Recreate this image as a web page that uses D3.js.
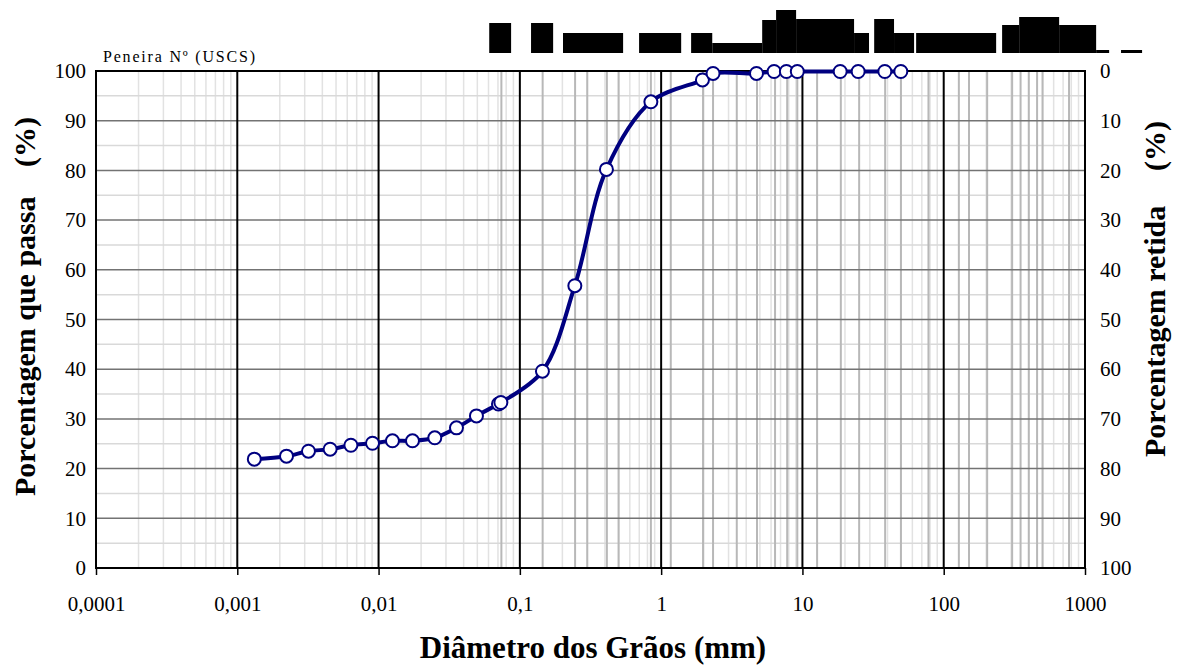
<!DOCTYPE html>
<html><head><meta charset="utf-8">
<script src="https://cdn.jsdelivr.net/npm/d3@7"></script>
<style>
html,body{margin:0;padding:0;background:#fff;}
svg{display:block;}
text{font-family:"Liberation Serif","Times New Roman",serif;fill:#000;}
</style></head>
<body>
<svg id="chart" width="1181" height="666"></svg>
<script>
// ---- data ----
const diameters = [0.00132,0.00223,0.00319,0.00454,0.00637,0.00906,0.01254,0.01738,0.0250,0.0356,0.0493,0.0706,0.0734,0.1445,0.245,0.410,0.846,1.96,2.33,4.73,6.3,7.7,9.2,18.5,24.8,38.3,49.7];
const passing   = [21.9,22.5,23.5,23.9,24.7,25.1,25.6,25.6,26.2,28.2,30.6,33.0,33.3,39.6,56.8,80.2,93.8,98.2,99.5,99.5,99.9,99.9,99.9,99.9,99.9,99.9,99.9];
const sieveLines = [0.074,0.145,0.246,0.3,0.413,0.5,0.846,1.17,1.98,2.33,3.43,4.77,6.4,7.8,9.2,12.7,18.7,25.2,38.5,49.8,78,128,151,203,305,350,400,458,501,771];
const xTickValues = [0.0001,0.001,0.01,0.1,1,10,100,1000];
const xTickLabels = ["0,0001","0,001","0,01","0,1","1","10","100","1000"];
const yTickValues = [0,10,20,30,40,50,60,70,80,90,100];
// header label blocks (sieve number labels rendered as solid blocks): start/end diameter, height
const headerStart  = [0.0607,0.120,0.202,0.698,1.63,2.30,5.19,6.51,9.02,23.2,32.2,44.5,63.8,259,342,656,1199,1799];
const headerEnd    = [0.0867,0.172,0.538,1.386,2.30,5.19,6.51,9.02,23.2,29.6,44.5,61.7,235,342,656,1199,1482,2535];
const headerHeight = [30,30,20,20,20,10,33,43,34,20,34,20,20,28,36,28,3,3];

// ---- layout ----
const L = 96, R = 1085, T = 71, B = 568;
const svg = d3.select("#chart");
const x = d3.scaleLog().domain([1e-4,1e3]).range([L,R]);
const y = d3.scaleLinear().domain([0,100]).range([B,T]);
const yR = d3.scaleLinear().domain([100,0]).range([B,T]);

const g = svg.append("g");

// minor vertical grid
const minors = [];
for (let e=-4;e<3;e++) for (let k=2;k<=9;k++) minors.push(k*Math.pow(10,e));
g.selectAll(".vminor").data(minors).enter().append("line")
  .attr("x1",d=>x(d)).attr("x2",d=>x(d)).attr("y1",T).attr("y2",B)
  .attr("stroke","#e2e2e2").attr("stroke-width",1.5);
// minor horizontal grid
const hmin = d3.range(5,100,10);
g.selectAll(".hminor").data(hmin).enter().append("line")
  .attr("x1",L).attr("x2",R).attr("y1",d=>y(d)).attr("y2",d=>y(d))
  .attr("stroke","#d9d9d9").attr("stroke-width",1.5);
// sieve lines
g.selectAll(".sieve").data(sieveLines).enter().append("line")
  .attr("x1",d=>x(d)).attr("x2",d=>x(d)).attr("y1",T).attr("y2",B)
  .attr("stroke","#b8b8b8").attr("stroke-width",2);
// major horizontal
g.selectAll(".hmaj").data(yTickValues.slice(1,-1)).enter().append("line")
  .attr("x1",L).attr("x2",R).attr("y1",d=>y(d)).attr("y2",d=>y(d))
  .attr("stroke","#737373").attr("stroke-width",1.5);
// decade lines
g.selectAll(".dec").data(xTickValues.slice(1,-1)).enter().append("line")
  .attr("x1",d=>x(d)).attr("x2",d=>x(d)).attr("y1",T).attr("y2",B)
  .attr("stroke","#000").attr("stroke-width",2);
// border
g.append("rect").attr("x",L).attr("y",T).attr("width",R-L).attr("height",B-T)
  .attr("fill","none").attr("stroke","#000").attr("stroke-width",2);

// x axis
const xAxis = d3.axisBottom(x).tickValues(xTickValues)
  .tickFormat((d,i)=>xTickLabels[i]).tickSize(7).tickPadding(21);
const xa = svg.append("g").attr("transform",`translate(0,${B})`).call(xAxis);
xa.select(".domain").remove();
xa.selectAll(".tick line").attr("stroke","#000").attr("stroke-width",1.5);
xa.selectAll(".tick text").attr("font-size",21).attr("font-family","Liberation Serif");

// left axis
const yAxis = d3.axisLeft(y).tickValues(yTickValues).tickSize(0).tickPadding(10);
const ya = svg.append("g").attr("transform",`translate(${L},0)`).call(yAxis);
ya.select(".domain").remove();
ya.selectAll(".tick text").attr("font-size",21).attr("font-family","Liberation Serif");
// right axis
const yAxisR = d3.axisRight(yR).tickValues(yTickValues).tickSize(0).tickPadding(15);
const yra = svg.append("g").attr("transform",`translate(${R},0)`).call(yAxisR);
yra.select(".domain").remove();
yra.selectAll(".tick text").attr("font-size",21).attr("font-family","Liberation Serif");

// header blocks
const hb = d3.range(headerStart.length);
svg.selectAll(".hb").data(hb).enter().append("rect")
  .attr("x",i=>x(headerStart[i])).attr("width",i=>x(headerEnd[i])-x(headerStart[i]))
  .attr("y",i=>53-headerHeight[i]).attr("height",i=>headerHeight[i])
  .attr("fill","#000");

// curve
const pts = diameters.map((d,i)=>[x(d),y(passing[i])]);
svg.append("path").attr("d",d3.line().curve(d3.curveCatmullRom.alpha(0.5))(pts))
  .attr("fill","none").attr("stroke","#000080").attr("stroke-width",4);
svg.selectAll(".pt").data(pts).enter().append("circle")
  .attr("cx",d=>d[0]).attr("cy",d=>d[1]).attr("r",6.5)
  .attr("fill","#fff").attr("stroke","#000080").attr("stroke-width",2);

// labels
svg.append("text").attr("x",103).attr("y",62).attr("font-size",16).attr("letter-spacing",1.8)
  .text("Peneira Nº (USCS)");
svg.append("text").attr("x",593).attr("y",658).attr("text-anchor","middle")
  .attr("font-size",31).attr("font-weight","bold").text("Diâmetro dos Grãos (mm)");
svg.append("text").attr("transform","translate(35,496) rotate(-90)")
  .attr("font-size",30).attr("font-weight","bold").text("Porcentagem que passa");
svg.append("text").attr("transform","translate(35,167) rotate(-90)")
  .attr("font-size",30).attr("font-weight","bold").text("(%)");
svg.append("text").attr("transform","translate(1165,457) rotate(-90)")
  .attr("font-size",30).attr("font-weight","bold").text("Porcentagem retida");
svg.append("text").attr("transform","translate(1165,171) rotate(-90)")
  .attr("font-size",30).attr("font-weight","bold").text("(%)");
</script>
</body></html>
